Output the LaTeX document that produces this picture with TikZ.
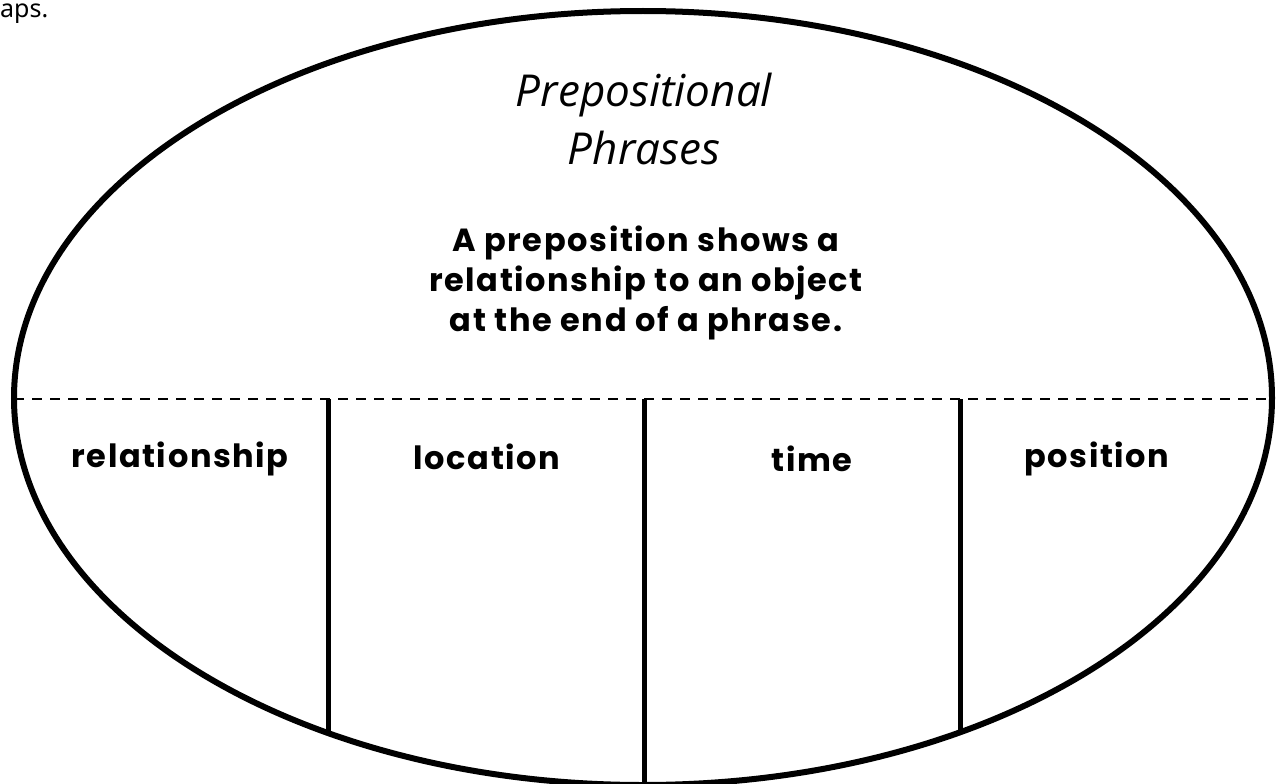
\documentclass[tikz,border=0pt]{standalone}
\usepackage{fontspec}
\setmainfont{Poppins}
\newfontfamily\body[LetterSpace=5]{Poppins}
\newfontfamily\hand{Open Sans}
\newfontfamily\plain{Noto Sans}
\usetikzlibrary{shapes.geometric}
\begin{document}
\begin{tikzpicture}[x=1pt,y=-1pt,
  bodytext/.style={font=\body\fontsize{32}{40}\selectfont\bfseries, align=center, text=black, inner sep=0},
  titletext/.style={font=\hand\itshape\fontsize{44}{58}\selectfont, align=center, inner sep=0},
  divider/.style={line width=5pt, line cap=butt},
  midline/.style={line width=2.2pt, dash pattern=on 10pt off 8pt}]
\useasboundingbox (0,0) rectangle (1280,784);
\clip (0,0) rectangle (1280,784);
\node[anchor=west, font=\plain\fontsize{25}{28}\selectfont, inner sep=0] (cut) at (0,14) {aps.};
\draw[line width=6pt] (643,398) ellipse [x radius=629, y radius=387];
\coordinate (dl) at (14,399);
\coordinate (dr) at (1272,399);
\draw[midline] (dl) -- (dr);
\coordinate (t1) at (328,399); \coordinate (b1) at (328,733);
\coordinate (t2) at (644,399); \coordinate (b2) at (644,790);
\coordinate (t3) at (960,399); \coordinate (b3) at (960,732);
\draw[divider] (t1) -- (b1);
\draw[divider] (t2) -- (b2);
\draw[divider] (t3) -- (b3);
\node[titletext] (title) at (644,119) {Prepositional\\Phrases};
\node[bodytext] (def) at (646,283) {A preposition shows a\\relationship to an object\\at the end of a phrase.};
\node[bodytext] (c1) at (180,459) {relationship};
\node[bodytext] (c2) at (487,457) {location};
\node[bodytext] (c3) at (812,459) {time};
\node[bodytext] (c4) at (1097,459) {position};
\end{tikzpicture}
\end{document}
